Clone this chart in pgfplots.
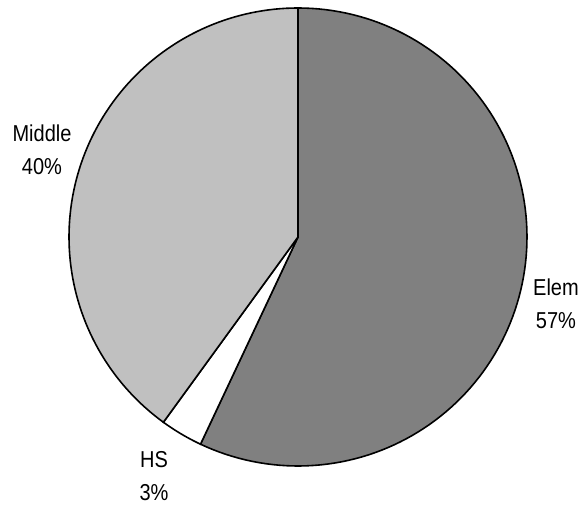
\documentclass[border=0pt]{standalone}
\usepackage{pgfplots}
\usepackage{pgfplotstable}
\pgfplotsset{compat=1.18}
\usepackage{fontspec}
\setmainfont{Liberation Sans}[FakeStretch=0.87]

% share of each school level (percent)
\pgfplotstableread{
level  share
Elem   57
HS     3
Middle 40
}\shares

\definecolor{elemgray}{RGB}{128,128,128}
\definecolor{midgray}{RGB}{192,192,192}

\begin{document}
\begin{tikzpicture}
\pgfplotstablegetelem{0}{share}\of\shares \let\sElem\pgfplotsretval
\pgfplotstablegetelem{1}{share}\of\shares \let\sHS\pgfplotsretval
\pgfplotstablegetelem{2}{share}\of\shares \let\sMid\pgfplotsretval
% slices run clockwise from 12 o'clock
\pgfmathsetmacro{\aA}{90}
\pgfmathsetmacro{\aB}{\aA-3.6*\sElem}
\pgfmathsetmacro{\aC}{\aB-3.6*\sHS}
\pgfmathsetmacro{\aD}{\aC-3.6*\sMid}
\begin{axis}[
  scale only axis, width=582pt, height=505pt,
  xmin=0, xmax=582, ymin=0, ymax=505,
  axis lines=none, clip=false,
]
% keep the full canvas as the picture's extent
\path (axis cs:0,0) rectangle (axis cs:582,505);
\def\cx{298}\def\cy{268}\def\r{229}
\addplot[fill=elemgray, draw=black, line width=1.6pt, domain=\aB:\aA, samples=120, variable=\t]
  ({\cx+\r*cos(\t)}, {\cy+\r*sin(\t)}) -- (axis cs:\cx,\cy) -- cycle;
\addplot[fill=white, draw=black, line width=1.6pt, domain=\aC:\aB, samples=20, variable=\t]
  ({\cx+\r*cos(\t)}, {\cy+\r*sin(\t)}) -- (axis cs:\cx,\cy) -- cycle;
\addplot[fill=midgray, draw=black, line width=1.6pt, domain=\aD:\aC, samples=100, variable=\t]
  ({\cx+\r*cos(\t)}, {\cy+\r*sin(\t)}) -- (axis cs:\cx,\cy) -- cycle;

\begin{scope}[every node/.style={font=\fontsize{23}{33}\selectfont, align=center, inner sep=0pt}]
\node at (axis cs:42,355) {Middle\\40\%};
\node at (axis cs:556,201) {Elem\\57\%};
\node at (axis cs:154,29) {HS\\3\%};
\end{scope}
\end{axis}
\end{tikzpicture}
\end{document}
